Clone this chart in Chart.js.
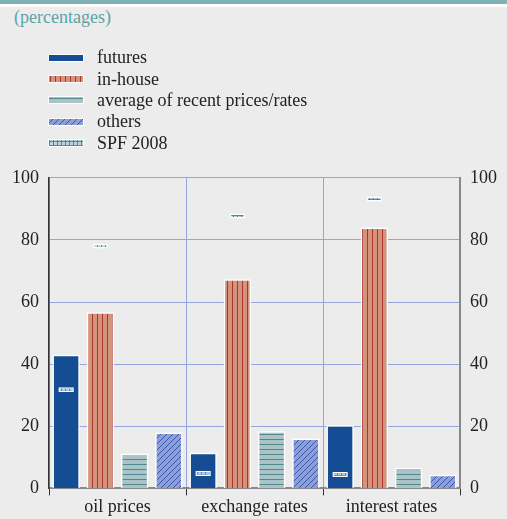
<!DOCTYPE html>
<html>
<head>
<meta charset="utf-8">
<script src="https://cdn.jsdelivr.net/npm/chart.js@4.4.1/dist/chart.umd.min.js"></script>
<style>
body { margin: 0; background: #ececec; width: 507px; height: 519px; overflow: hidden; position: relative; font-family: "Liberation Serif", serif; }
#band { position: absolute; left: 0; top: 0; width: 507px; height: 4px; background: #7fb1b5; }
#band2 { position: absolute; left: 0; top: 4px; width: 507px; height: 3px; background: #fff; }
#unit { position: absolute; left: 14px; top: 7px; font-size: 18px; color: #5ba3a6; }
#legend { position: absolute; left: 48px; top: 47px; }
.item { height: 21.4px; display: flex; align-items: center; }
.item canvas { margin-right: 13px; }
.item span { font-size: 18px; color: #222; }
#wrap { position: absolute; left: 0; top: 157px; width: 507px; height: 362px; }
</style>
</head>
<body>
<div id="band"></div><div id="band2"></div>
<div id="unit">(percentages)</div>
<div id="legend"></div>
<div id="wrap"><canvas id="chart"></canvas></div>
<script>
const categories = ['oil prices', 'exchange rates', 'interest rates']
const futures = [43, 11.5, 20.3]
const inHouse = [56.7, 67.3, 84]
const averageRecent = [11.2, 18.4, 6.6]
const others = [18, 16.1, 4.4]
const spfFutures = [31.8, 4.8, 4.5]
const spfInHouse = [78, 87.7, 93.2]
const yTicks = [0, 20, 40, 60, 80, 100]

function makePattern(bg, fg, kind) {
    const c = document.createElement('canvas')
    const s = kind == 'diag' ? 6 : (kind == 'cross' ? 4 : 5)
    c.width = s
    c.height = s
    const g = c.getContext('2d')
    g.fillStyle = bg
    g.fillRect(0, 0, s, s)
    g.strokeStyle = fg
    g.lineWidth = 1
    g.beginPath()
    if (kind == 'vert') { g.moveTo(2.5, 0); g.lineTo(2.5, s) }
    if (kind == 'horiz') { g.moveTo(0, 2.5); g.lineTo(s, 2.5) }
    if (kind == 'cross') { g.moveTo(0, 2.5); g.lineTo(s, 2.5); g.moveTo(1.5, 0); g.lineTo(1.5, s) }
    if (kind == 'diag') {
        g.moveTo(0, s); g.lineTo(s, 0)
        g.moveTo(-1, 1); g.lineTo(1, -1)
        g.moveTo(s - 1, s + 1); g.lineTo(s + 1, s - 1)
    }
    g.stroke()
    return g.createPattern(c, 'repeat')
}

const fills = {
    futures: '#154d94',
    inHouse: makePattern('#d4937d', '#ad3529', 'vert'),
    average: makePattern('#a9c3c6', '#4e8a8f', 'horiz'),
    others: makePattern('#8d9fd9', '#3b55aa', 'diag'),
    spf: makePattern('#bcd6df', '#4e8a8f', 'cross')
}

const FONT = { family: 'Liberation Serif', size: 18 }
const GRID = '#95a4dd'
const half = 0.8

const base = { borderColor: '#fff', borderWidth: 1.5, barPercentage: 0.8, categoryPercentage: 1 }
const datasets = [
    { ...base, label: 'futures', data: futures, backgroundColor: fills.futures, stack: 'a', order: 2 },
    { ...base, label: 'in-house', data: inHouse, backgroundColor: fills.inHouse, stack: 'b', order: 2 },
    { ...base, label: 'average of recent prices/rates', data: averageRecent, backgroundColor: fills.average, stack: 'c', order: 2 },
    { ...base, label: 'others', data: others, backgroundColor: fills.others, stack: 'd', order: 2 },
    { ...base, label: 'SPF 2008', data: spfFutures.map(v => [v - half, v + half]), backgroundColor: fills.spf,
      stack: 'a', order: 0, barPercentage: 0.45, borderSkipped: false },
    { ...base, label: 'SPF 2008', data: spfInHouse.map(v => [v - half, v + half]), backgroundColor: fills.spf,
      stack: 'b', order: 0, barPercentage: 0.45, borderSkipped: false }
]

const setTicks = axis => { axis.ticks = yTicks.map(v => ({ value: v })) }

const ctx = document.getElementById('chart')
ctx.width = 507
ctx.height = 362

const chart = new Chart(ctx, {
    type: 'bar',
    data: { labels: categories, datasets: datasets },
    options: {
        responsive: false,
        maintainAspectRatio: false,
        animation: false,
        layout: { padding: { left: 2, right: 0, top: 2, bottom: 0 } },
        plugins: { legend: { display: false }, tooltip: { enabled: false } },
        scales: {
            x: {
                stacked: true,
                grid: { offset: true, color: GRID, tickColor: '#333', tickLength: 7 },
                border: { color: '#888', width: 2 },
                ticks: { font: FONT, color: '#222', padding: 1 }
            },
            y: {
                min: 0, max: 100, stacked: false,
                afterBuildTicks: setTicks,
                grid: { color: GRID, drawTicks: false },
                border: { color: '#333', width: 1.5 },
                ticks: { font: FONT, color: '#222', padding: 10 }
            },
            y2: {
                position: 'right', min: 0, max: 100,
                afterBuildTicks: setTicks,
                grid: { drawOnChartArea: false, drawTicks: false },
                border: { color: '#888', width: 2 },
                ticks: { font: FONT, color: '#222', padding: 10 }
            }
        }
    }
})

// legend as html, one entry per label
const legend = document.getElementById('legend')
const seen = []
datasets.forEach(ds => {
    if (seen.includes(ds.label)) return
    seen.push(ds.label)
    const row = document.createElement('div')
    row.className = 'item'
    const sw = document.createElement('canvas')
    sw.width = 36
    sw.height = 8
    const g = sw.getContext('2d')
    g.fillStyle = '#fff'
    g.fillRect(0, 0, 36, 8)
    g.fillStyle = ds.backgroundColor
    g.fillRect(1, 1, 34, 6)
    const txt = document.createElement('span')
    txt.textContent = ds.label
    row.appendChild(sw)
    row.appendChild(txt)
    legend.appendChild(row)
})
</script>
</body>
</html>
